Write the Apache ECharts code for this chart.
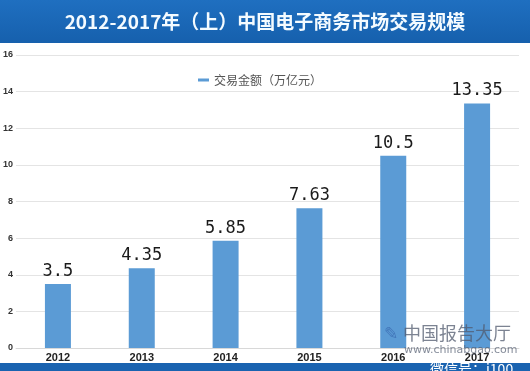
<!DOCTYPE html>
<html><head><meta charset="utf-8">
<script src="https://cdn.jsdelivr.net/npm/echarts@6/dist/echarts.min.js"></script>
<style>html,body{margin:0;padding:0;background:#fff}#c{width:530px;height:371px}</style>
</head><body><div id="c"></div>
<script>
const categories = ['2012','2013','2014','2015','2016','2017'];
const values = [3.5, 4.35, 5.85, 7.63, 10.5, 13.35];
const seriesName = '交易金额（万亿元）';
const titleText = '2012-2017年（上）中国电子商务市场交易规模';
const yTicks = {min:0, max:16, interval:2};

const chart = echarts.init(document.getElementById('c'));
chart.setOption({
  animation:false,
  backgroundColor:'#fff',
  graphic:[
    {type:'rect', left:0, top:0, shape:{width:530, height:43}, style:{fill:new echarts.graphic.LinearGradient(0,0,0,1,[{offset:0,color:'#1f6fc0'},{offset:1,color:'#1660ad'}])}, z:-1},
    {type:'text', left:'center', top:12, style:{text:titleText, fill:'#f4fbff', font:'bold 19px "Noto Sans CJK SC", sans-serif'}},
    {type:'rect', left:0, top:363, shape:{width:530, height:8}, style:{fill:'#1a63b0'}, z:-1},
    {type:'text', left:403, top:324, style:{text:'中国报告大厅', fill:'rgba(80,90,110,0.75)', font:'18px "Noto Sans CJK SC", sans-serif'}, z:10},
    {type:'text', left:404, top:345, style:{text:'www.chinabgao.com', fill:'rgba(80,90,110,0.7)', font:'11px "DejaVu Sans", sans-serif'}, z:10},
    {type:'text', left:384, top:326, style:{text:'✎', fill:'rgba(60,110,180,0.8)', font:'17px "DejaVu Sans", sans-serif'}, z:10},
    {type:'text', left:430, top:362, style:{text:'微信号：i100', fill:'#ffffff', font:'14px "Noto Sans CJK SC", sans-serif'}, z:10}
  ],
  legend:{
    data:[seriesName], left:193, top:69, itemWidth:11, itemHeight:3, itemGap:4,
    icon:'rect',
    textStyle:{color:'#555', fontSize:12, fontFamily:'"Noto Sans CJK SC", serif'}
  },
  grid:{left:16, right:11, top:55, bottom:23, containLabel:false},
  xAxis:{
    type:'category', data:categories,
    axisLine:{lineStyle:{color:'#d8d8d8'}}, axisTick:{show:false},
    axisLabel:{color:'#222', fontSize:11, fontWeight:'bold', margin:4, fontFamily:'Arial, "Liberation Sans", sans-serif'}
  },
  yAxis:{
    type:'value', min:yTicks.min, max:yTicks.max, interval:yTicks.interval,
    axisLine:{show:false}, axisTick:{show:false},
    splitLine:{lineStyle:{color:'#e4e4e4'}},
    axisLabel:{color:'#333', fontSize:9, fontWeight:'bold', margin:3, fontFamily:'Arial, "Liberation Sans", sans-serif'}
  },
  series:[{
    name:seriesName, type:'bar', data:values, barWidth:26,
    itemStyle:{color:'#5b9bd5'},
    label:{show:true, position:'top', distance:4, color:'#1a1a1a', fontSize:17, fontFamily:'"DejaVu Sans Mono", monospace'}
  }]
});
</script></body></html>
